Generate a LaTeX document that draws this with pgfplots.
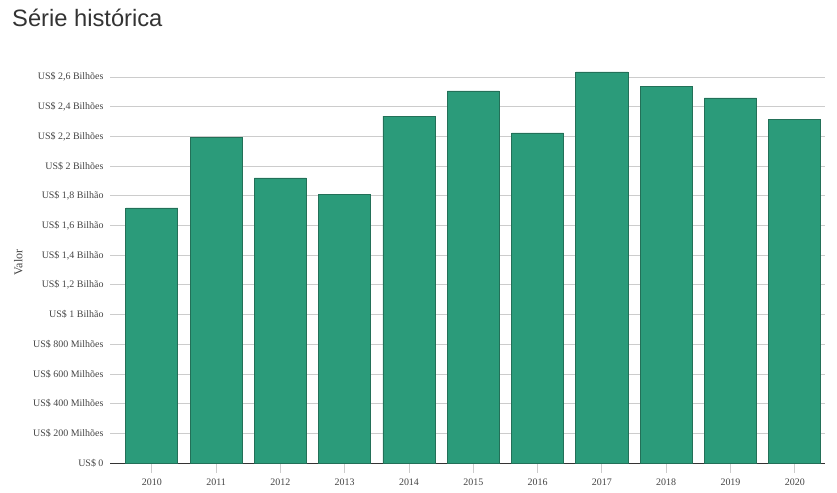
\documentclass[border=0pt]{standalone}
\usepackage{pgfplots}
\pgfplotsset{compat=1.18}
\usepackage{fontspec}
\setmainfont{Liberation Serif}
\newfontfamily\titlefont{Liberation Sans}
\definecolor{barfill}{RGB}{43,155,122}
\definecolor{barline}{RGB}{35,112,88}
\definecolor{gridc}{RGB}{204,204,204}
\definecolor{txt}{RGB}{68,68,68}
\begin{document}
\begin{tikzpicture}[x=1bp,y=1bp]
\useasboundingbox (0,0) rectangle (837,493);
\node[anchor=base west, inner sep=0pt, text=black!80] at (12,466) {\titlefont\fontsize{23.8}{26}\selectfont Série histórica};
\begin{axis}[
  at={(110bp,30bp)}, anchor=south west,
  scale only axis, width=715bp, height=400.8bp,
  xmin=-0.65, xmax=10.47, ymin=0, ymax=2.7,
  axis x line=bottom, axis y line=left,
  x axis line style={black!80, -},
  y axis line style={draw=none},
  xtick={0,...,10},
  xticklabels={2010,2011,2012,2013,2014,2015,2016,2017,2018,2019,2020},
  xtick style={gridc, line width=0.8bp},
  major tick length=10bp,
  xtick align=outside,
  ytick={0,0.2,...,2.61},
  yticklabels={US\$ 0,US\$ 200 Milhões,US\$ 400 Milhões,US\$ 600 Milhões,US\$ 800 Milhões,US\$ 1 Bilhão,{US\$ 1,2 Bilhão},{US\$ 1,4 Bilhão},{US\$ 1,6 Bilhão},{US\$ 1,8 Bilhão},US\$ 2 Bilhões,{US\$ 2,2 Bilhões},{US\$ 2,4 Bilhões},{US\$ 2,6 Bilhões}},
  ymajorgrids, grid style={gridc, line width=0.8bp},
  ytick style={draw=none},
  tick label style={font=\fontsize{10}{12}\selectfont, text=txt},
  yticklabel style={anchor=east, xshift=2bp},
  xticklabel style={yshift=-2bp},
  ylabel={Valor}, ylabel style={font=\fontsize{12}{14}\selectfont, text=txt, at={(axis description cs:0,0.5)}, anchor=south, yshift=84bp},
  clip=false,
]
\addplot[ybar, bar width=0.81, fill=barfill, draw=barline, line width=0.8bp] coordinates {
(0,1.718) (1,2.196) (2,1.920) (3,1.812) (4,2.337) (5,2.506) (6,2.223) (7,2.634) (8,2.539) (9,2.459) (10,2.317)};
\end{axis}
\end{tikzpicture}
\end{document}
